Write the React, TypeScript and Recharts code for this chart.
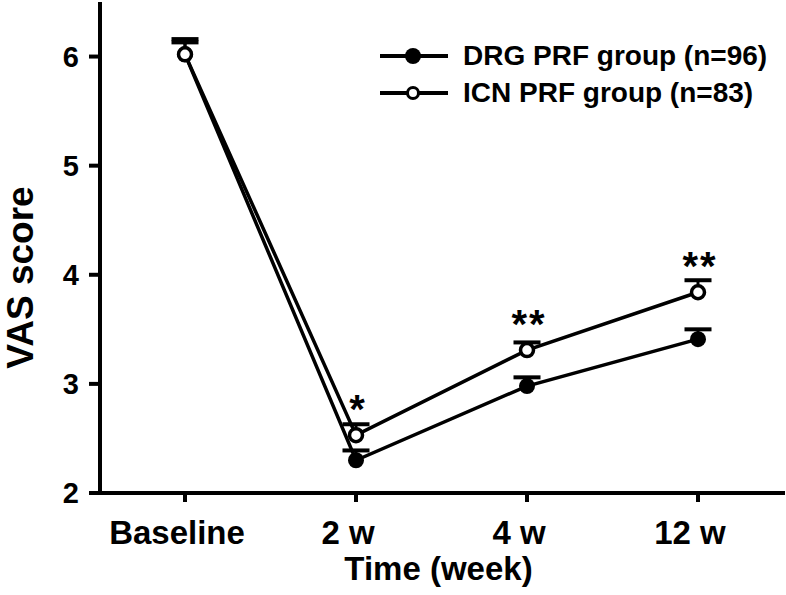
import React from 'react';
import { LineChart, Line, XAxis, YAxis, ErrorBar, Legend, LabelList } from 'recharts';

// Waarden
const timePoints = ['Baseline', '2 w', '4 w', '12 w'];
const seriesNames = ['DRG PRF group (n=96)', 'ICN PRF group (n=83)'];
const drgMean = [6.02, 2.3, 2.98, 3.41];
const drgErr = [0.11, 0.09, 0.08, 0.09];
const icnMean = [6.02, 2.53, 3.31, 3.84];
const icnErr = [0.14, 0.1, 0.07, 0.11];
const significance = ['', '*', '**', '**'];
const yTicks = [2, 3, 4, 5, 6];

const FONT = '"Liberation Sans", Arial, Helvetica, sans-serif';

const data = timePoints.map((t, i) => ({
  time: t,
  drg: drgMean[i],
  drgErr: [0, drgErr[i]],
  drgCap: drgMean[i] + drgErr[i],
  icn: icnMean[i],
  icnErr: [0, icnErr[i]],
  icnCap: icnMean[i] + icnErr[i],
  sig: significance[i],
}));

// horizontale kap van de foutbalk
const renderCap = (props: any) => {
  const { cx, cy, index } = props;
  if (cx == null || cy == null) return <g key={`cap-${index}`} />;
  return <rect key={`cap-${index}`} x={cx - 13.5} y={cy - 2} width={27} height={4} fill="#000" />;
};

const renderLegend = (props: any) => {
  const items = (props.payload || []).filter((p: any) => p.dataKey === 'drg' || p.dataKey === 'icn');
  return (
    <div style={{ whiteSpace: 'nowrap', width: 420 }}>
      {items.map((p: any, i: number) => (
        <div key={i} style={{ display: 'flex', alignItems: 'center', height: 37 }}>
          <svg width={70} height={22} style={{ flexShrink: 0, display: 'block' }}>
            <line x1={1} y1={11} x2={69} y2={11} stroke="#000" strokeWidth={4} />
            {p.dataKey === 'drg' ? (
              <circle cx={34} cy={11} r={8} fill="#000" />
            ) : (
              <circle cx={34} cy={11} r={5.5} fill="#fff" stroke="#000" strokeWidth={3} />
            )}
          </svg>
          <span style={{ marginLeft: 14, fontSize: 28, fontWeight: 'bold', fontFamily: FONT, color: '#000' }}>
            {p.value}
          </span>
        </div>
      ))}
    </div>
  );
};

const renderSig = (props: any) => {
  const { x, y, value, index } = props;
  if (!value) return <g key={`sig-${index}`} />;
  return (
    <text
      key={`sig-${index}`}
      x={x + 2}
      y={y - 12}
      textAnchor="middle"
      fontSize={40}
      fontWeight="bold"
      letterSpacing={2}
      fontFamily={FONT}
      fill="#000"
    >
      {value}
    </text>
  );
};

export default function App() {
  return (
    <div style={{ position: 'absolute', left: 0, top: 0, background: '#fff' }}>
      <LineChart width={786} height={595} data={data} margin={{ top: 2, right: 1, left: 0, bottom: 0 }}>
        <XAxis
          dataKey="time"
          height={102}
          padding={{ left: 85, right: 87 }}
          axisLine={{ stroke: '#000', strokeWidth: 4 }}
          tickLine={{ stroke: '#000', strokeWidth: 4 }}
          tickSize={9}
          tickMargin={19}
          tick={{ fontSize: 33, fontWeight: 'bold', fill: '#000', fontFamily: FONT, dx: -8 }}
          label={{
            content: (p: any) => {
              const vb = p.viewBox;
              return (
                <text x={vb.x + vb.width / 2 - 4} y={vb.y + 87} textAnchor="middle" fontSize={33} fontWeight="bold" fontFamily={FONT} fill="#000">
                  Time (week)
                </text>
              );
            },
          }}
        />
        <YAxis
          width={100}
          domain={[2, 6.5]}
          ticks={yTicks}
          axisLine={{ stroke: '#000', strokeWidth: 4 }}
          tickLine={{ stroke: '#000', strokeWidth: 4 }}
          tickSize={11}
          tickMargin={10}
          tick={{ fontSize: 29, fontWeight: 'bold', fill: '#000', fontFamily: FONT }}
          label={{
            content: (p: any) => {
              const vb = p.viewBox;
              const cx = 20;
              const cy = vb.y + vb.height / 2 + 30;
              return (
                <text
                  x={cx}
                  y={cy}
                  transform={`rotate(-90 ${cx} ${cy})`}
                  textAnchor="middle"
                  dominantBaseline="central"
                  fontSize={37}
                  fontWeight="bold"
                  fontFamily={FONT}
                  fill="#000"
                >
                  VAS score
                </text>
              );
            },
          }}
        />
        <Legend
          layout="vertical"
          align="right"
          verticalAlign="top"
          content={renderLegend}
          wrapperStyle={{ top: 37, left: 379, width: 0, height: 0, overflow: 'visible' }}
        />
        <Line
          dataKey="drg"
          name={seriesNames[0]}
          stroke="#000"
          strokeWidth={3.5}
          dot={{ r: 8, fill: '#000', stroke: '#000', strokeWidth: 0 }}
          activeDot={false}
          isAnimationActive={false}
        >
          <ErrorBar dataKey="drgErr" direction="y" width={0} stroke="#000" strokeWidth={3} />
        </Line>
        <Line dataKey="drgCap" stroke="none" dot={renderCap} activeDot={false} legendType="none" isAnimationActive={false} />
        <Line
          dataKey="icn"
          name={seriesNames[1]}
          stroke="#000"
          strokeWidth={3.5}
          dot={{ r: 6.5, fill: '#fff', stroke: '#000', strokeWidth: 3.5 }}
          activeDot={false}
          isAnimationActive={false}
        >
          <ErrorBar dataKey="icnErr" direction="y" width={0} stroke="#000" strokeWidth={3} />
          <LabelList dataKey="sig" content={renderSig} />
        </Line>
        <Line dataKey="icnCap" stroke="none" dot={renderCap} activeDot={false} legendType="none" isAnimationActive={false} />
      </LineChart>
    </div>
  );
}
